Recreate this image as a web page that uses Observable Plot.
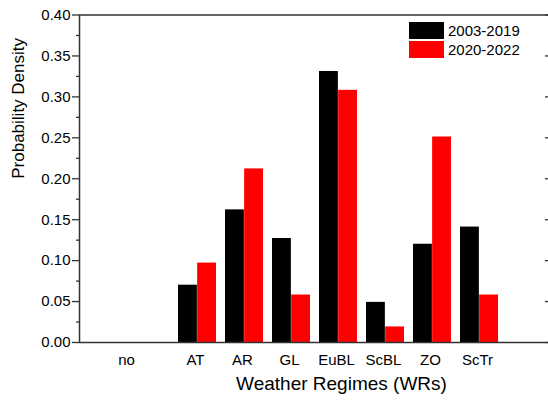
<!DOCTYPE html>
<html>
<head>
<meta charset="utf-8">
<script src="https://cdn.jsdelivr.net/npm/d3@7"></script>
<script src="https://cdn.jsdelivr.net/npm/@observablehq/plot@0.6"></script>
<style>
  html, body { margin: 0; padding: 0; overflow: hidden; background: #fff; }
  #chart { width: 548px; height: 400px; overflow: hidden; }
  #chart svg { max-width: none !important; }
</style>
</head>
<body>
<div id="chart"></div>
<script>
const categories = ["no", "AT", "AR", "GL", "EuBL", "ScBL", "ZO", "ScTr"];
const series = ["2003-2019", "2020-2022"];
const values2003 = [0, 0.070, 0.162, 0.127, 0.331, 0.049, 0.120, 0.141];
const values2020 = [0, 0.097, 0.212, 0.058, 0.308, 0.019, 0.251, 0.058];
const yMajor = [0, 0.05, 0.10, 0.15, 0.20, 0.25, 0.30, 0.35, 0.40];
const yMinor = [0.025, 0.075, 0.125, 0.175, 0.225, 0.275, 0.325, 0.375];
const xTitle = "Weather Regimes (WRs)";
const yTitle = "Probability Density";
const colors = ["#000000", "#ff0000"];

const rows1 = categories.map((c, i) => ({cat: c, v: values2003[i]}));
const rows2 = categories.map((c, i) => ({cat: c, v: values2020[i]}));

const W = 553, H = 400, mL = 79, mR = 2, mT = 14.5, mB = 58;
const pInner = 0.19, pOuter = 1.09;
const plotW = W - mL - mR;
const step = plotW / (categories.length - pInner + 2 * pOuter);
const half = step * (1 - pInner) / 2;

const chart = Plot.plot({
  width: W, height: H,
  marginLeft: mL, marginRight: mR, marginTop: mT, marginBottom: mB,
  style: {fontFamily: "'Liberation Sans', Arial, sans-serif", fontSize: "15px", color: "#000", background: "#fff"},
  x: {domain: categories, paddingInner: pInner, paddingOuter: pOuter, axis: null},
  y: {domain: [0, 0.4], axis: null},
  marks: [
    Plot.barY(rows1, {x: "cat", y: "v", fill: colors[0], insetRight: half}),
    Plot.barY(rows2, {x: "cat", y: "v", fill: colors[1], insetLeft: half}),
    Plot.frame({stroke: "#333", strokeWidth: 1.5}),
    Plot.axisY(yMajor, {tickSize: 7, tickPadding: 2, tickFormat: d3.format(".2f"), label: null, stroke: "#333", strokeWidth: 1.3, fontSize: 15}),
    Plot.axisY(yMinor, {tickSize: 3, tickFormat: () => "", label: null, stroke: "#333", strokeWidth: 1.3}),
    Plot.tickY(yMajor, {y: d => d, insetLeft: plotW - 6, stroke: "#333", strokeWidth: 1.3}),
    Plot.axisX(categories.slice(1), {tickSize: 0, tickPadding: 12, label: null, fontSize: 15, dx: -2}),
    Plot.axisX(categories.slice(0, 1), {tickSize: 0, tickPadding: 12, label: null, fontSize: 15, dx: -24}),
    Plot.text([xTitle], {x: () => "EuBL", text: d => d, frameAnchor: "bottom", dy: 47, dx: 3, fontSize: 19}),
    Plot.text([yTitle], {text: d => d, frameAnchor: "left", rotate: -90, dx: -61, fontSize: 17})
  ]
});

const svg = d3.select(chart);
const lg = svg.append("g").attr("text-anchor", "start");
series.forEach((s, i) => {
  lg.append("rect").attr("x", 409).attr("y", 22 + i * 19).attr("width", 35).attr("height", 17).attr("fill", colors[i]);
  lg.append("text").attr("x", 448).attr("y", 30.5 + i * 19).attr("dy", "0.35em")
    .attr("text-anchor", "start").attr("font-size", 15).attr("fill", "#000").text(s);
});

document.getElementById("chart").appendChild(chart);
</script>
</body>
</html>
